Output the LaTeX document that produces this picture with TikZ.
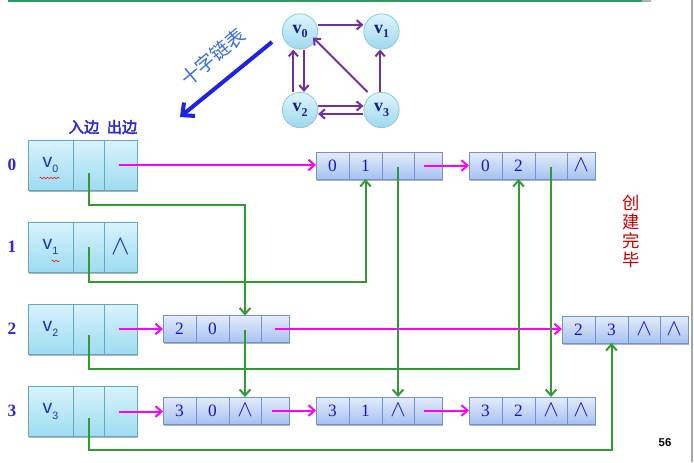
\documentclass[tikz,border=0pt]{standalone}
\usepackage{fontspec}
\setmainfont{Liberation Serif}
\setsansfont{Liberation Sans}
\newfontfamily\cjk{Noto Sans CJK SC}
\newfontfamily\cjkb[FakeBold=2.5]{Noto Sans CJK SC}
\usetikzlibrary{arrows.meta,shadows,decorations.pathmorphing}
\definecolor{vtop}{HTML}{D8F3FC}
\definecolor{vbot}{HTML}{9EDCF1}
\definecolor{vborder}{HTML}{5FABC3}
\definecolor{atop}{HTML}{E4ECFC}
\definecolor{abot}{HTML}{A6C2F0}
\definecolor{aborder}{HTML}{7393CC}
\definecolor{ctop}{HTML}{DDF6FD}
\definecolor{cbot}{HTML}{9ED8EE}
\definecolor{cborder}{HTML}{8CCBE0}
\definecolor{numblue}{HTML}{1414D8}
\definecolor{lblblue}{HTML}{2A2ADC}
\definecolor{vblue}{HTML}{1F2FC8}
\definecolor{gnavy}{HTML}{1A1A8C}
\definecolor{edgepurple}{HTML}{7030A0}
\definecolor{arrblue}{HTML}{1E22E6}
\definecolor{txtblue}{HTML}{3A6CE8}
\definecolor{mag}{HTML}{FF00FF}
\definecolor{grn}{HTML}{339933}
\definecolor{topgrn}{HTML}{2E9A62}
\definecolor{redtxt}{HTML}{CC0000}
\newcommand\vsub[1]{v\raisebox{-0.28em}{\footnotesize #1}}
\newcommand\gsub[1]{{\bfseries v\raisebox{-0.25em}{\small #1}}}
\newcommand\nil{\scalebox{1.45}{$\wedge$}}
\newcommand\vrow[4]{%
  \node[vcell, minimum width=45*0.75pt] (#1n) at (28,#2) {#3};
  \node[vcell, minimum width=31*0.75pt] (#1i) at (#1n.east) {};
  \node[vcell, minimum width=33*0.75pt] (#1o) at (#1i.east) {#4};
}
\newcommand\arcn[7]{%
  \node[acell, minimum width=33*0.75pt] (#1a) at (#2,#3) {#4};
  \node[acell, minimum width=33*0.75pt] (#1b) at (#1a.east) {#5};
  \node[acell, minimum width=32*0.75pt] (#1c) at (#1b.east) {#6};
  \node[acell, minimum width=28*0.75pt] (#1d) at (#1c.east) {#7};
}
\begin{document}
\begin{tikzpicture}[x=0.75pt, y=-0.75pt,
  vcell/.style={draw=vborder, line width=0.6pt, top color=vtop, bottom color=vbot,
    minimum height=37.5pt, inner sep=0pt, outer sep=0pt, anchor=west,
    text=vblue, font=\sffamily\fontsize{14.5}{14.5}\selectfont,
    drop shadow={shadow xshift=0.6pt, shadow yshift=-1.3pt, opacity=0.3, fill=black}},
  acell/.style={draw=aborder, line width=0.6pt, top color=atop, bottom color=abot,
    minimum height=20.25pt, inner sep=0pt, outer sep=0pt, anchor=west,
    text=numblue, font=\fontsize{13}{13}\selectfont,
    drop shadow={shadow xshift=0.6pt, shadow yshift=-1.2pt, opacity=0.3, fill=black}},
  gnode/.style={circle, draw=cborder, line width=0.6pt, top color=ctop, bottom color=cbot,
    minimum size=26.5pt, inner sep=0pt, text=gnavy, font=\fontsize{13.5}{13.5}\selectfont},
  pline/.style={draw=edgepurple, line width=1.5pt, -{Straight Barb[length=4pt,width=7pt]}},
  mline/.style={draw=mag, line width=1.5pt, -{Straight Barb[length=4.5pt,width=8pt]}},
  gline/.style={draw=grn, line width=1.5pt, -{Straight Barb[length=4.5pt,width=8pt]}},
  rowlbl/.style={text=lblblue, font=\bfseries\fontsize{13}{13}\selectfont},
  squig/.style={draw=red, line width=0.4pt, decorate, decoration={snake, amplitude=0.6pt, segment length=2.6pt}}
]
\useasboundingbox (0,0) rectangle (694,462);
\fill[white] (0,0) rectangle (694,462);
\draw[topgrn, line width=1.6pt] (8,1) -- (642,1);
\draw[gray!60, line width=1.5pt] (642,1) -- (651,1);
\draw[gray!70, line width=0.8pt] (692,0) -- (692,462);

% small graph
\node[gnode] (g0) at (300,31.5) {\gsub{0}};
\node[gnode] (g1) at (381.5,31.5) {\gsub{1}};
\node[gnode] (g2) at (300,110) {\gsub{2}};
\node[gnode] (g3) at (381.5,110) {\gsub{3}};
\draw[pline] ([yshift=5pt]g0.east) -- ([yshift=5pt]g1.west);
\draw[pline] ([xshift=-1pt]g3.north) -- ([xshift=-1pt]g1.south);
\draw[pline] ([xshift=3pt]g0.south) -- ([xshift=3pt]g2.north);
\draw[pline] ([xshift=-5pt]g2.north) -- ([xshift=-5pt]g0.south);
\draw[pline] ([shift={(-14,-18)}]g3.center) -- ([shift={(13,6)}]g0.center);
\draw[pline] ([yshift=3pt]g2.east) -- ([yshift=3pt]g3.west);
\draw[pline] ([yshift=-3pt]g3.west) -- ([yshift=-3pt]g2.east);

% big arrow and label
\coordinate (bs) at (272,42);
\coordinate (be) at (180,117);
\draw[arrblue, line width=3pt, -{Straight Barb[length=7pt,width=13pt]}] (bs) -- (be);
\node[rotate=40, text=txtblue, font=\cjk\fontsize{14.5}{14.5}\selectfont] (lbl) at (213,57) {十字链表};

% header
\node[text=lblblue, font=\cjkb\fontsize{11.5}{11.5}\selectfont] (hin) at (84,127) {入边};
\node[text=lblblue, font=\cjkb\fontsize{11.5}{11.5}\selectfont] (hout) at (122,127) {出边};

% row labels
\node[rowlbl] (l0) at (12,165) {0};
\node[rowlbl] (l1) at (12,247) {1};
\node[rowlbl] (l2) at (12,329) {2};
\node[rowlbl] (l3) at (12,411) {3};

% vertex table
\vrow{V0}{165}{\vsub{0}}{}
\vrow{V1}{247}{\vsub{1}}{\nil}
\vrow{V2}{329}{\vsub{2}}{}
\vrow{V3}{411.5}{\vsub{3}}{}
\draw[squig] ([shift={(-11,13)}]V0n.center) -- ([shift={(9,13)}]V0n.center);
\draw[squig] ([shift={(1,14)}]V1n.center) -- ([shift={(9,14)}]V1n.center);

% arc nodes
\arcn{A01}{316}{165.5}{0}{1}{}{}
\arcn{A02}{469}{165.5}{0}{2}{}{\nil}
\arcn{A20}{163}{329}{2}{0}{}{}
\arcn{A23}{562}{329.5}{2}{3}{\nil}{\nil}
\arcn{A30}{163}{410.5}{3}{0}{\nil}{}
\arcn{A31}{316}{410.5}{3}{1}{\nil}{}
\arcn{A32}{469}{410.5}{3}{2}{\nil}{\nil}

% magenta (tail list) links
\draw[mline] ([xshift=-1pt]V0o.center) -- (V0o.center -| A01a.west);
\draw[mline] ([xshift=-3pt]A01d.center) -- (A01d.center -| A02a.west);
\draw[mline] ([xshift=-1pt]V2o.center) -- (V2o.center -| A20a.west);
\draw[mline] (A20d.center) -- (A20d.center -| A23a.west);
\draw[mline] ([xshift=-1pt]V3o.center) -- (V3o.center -| A30a.west);
\draw[mline] ([xshift=-2pt]A30d.center) -- (A30d.center -| A31a.west);
\draw[mline] ([xshift=-3pt]A31d.center) -- (A31d.center -| A32a.west);

% green (head list) links
\draw[gline] ([yshift=-6pt]V0i.center) -- ++(0,32) -| (A20c.north);
\draw[gline] (V1i.center) -- ++(0,35) -| (A01b.south);
\draw[gline] ([yshift=-4.5pt]V2i.center) -- ++(0,34) -| (A02b.south);
\draw[gline] ([yshift=-4.5pt]V3i.center) -- ++(0,32) -| (A23b.south);
\draw[gline] ([yshift=-1pt]A01c.center) -- (A31c.north);
\draw[gline] ([yshift=-1pt]A02c.center) -- (A32c.north);
\draw[gline] ([yshift=-1pt]A20c.center) -- (A30c.north);

% side note and page number
\node[text=redtxt, font=\cjk\fontsize{13}{14.3}\selectfont, align=center] (done) at (631,231.5) {创\\建\\完\\毕};
\node[font=\sffamily\bfseries\fontsize{8.5}{8.5}\selectfont] (pg) at (665,443) {56};
\end{tikzpicture}
\end{document}
